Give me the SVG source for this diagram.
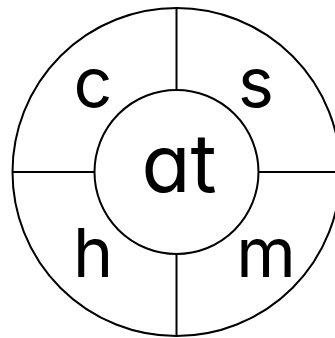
<svg xmlns="http://www.w3.org/2000/svg" width="335" height="338" viewBox="0 0 335 338">
<style>
.ln{fill:none;stroke:#000;stroke-width:2}
.t{font-family:Inter,"Open Sans","DejaVu Sans",sans-serif;font-feature-settings:"cv11" 1,"ss02" 0;fill:#000;text-anchor:middle;font-weight:400}
.s{font-size:68px}
.b{font-size:80px}
</style>
<rect width="335" height="338" fill="#fff"/>
<g id="wheel">
<circle class="ln" cx="176.5" cy="172" r="164"/>
</g>
<g id="connectors">
<line class="ln" x1="176.5" y1="8" x2="176.5" y2="90"/>
<line class="ln" x1="176.5" y1="254" x2="176.5" y2="336"/>
<line class="ln" x1="12.5" y1="172" x2="94.5" y2="172"/>
<line class="ln" x1="258.5" y1="172" x2="340.5" y2="172"/>
</g>
<g id="center">
<circle class="ln" cx="176.5" cy="172" r="82"/>
<text class="t b" x="179" y="192">at</text>
</g>
<g id="c"><text class="t s" x="93" y="107">c</text></g>
<g id="s"><text class="t s" x="256" y="107">s</text></g>
<g id="h"><text class="t s" x="93" y="277">h</text></g>
<g id="m"><text class="t s" x="266" y="277">m</text></g>
</svg>
